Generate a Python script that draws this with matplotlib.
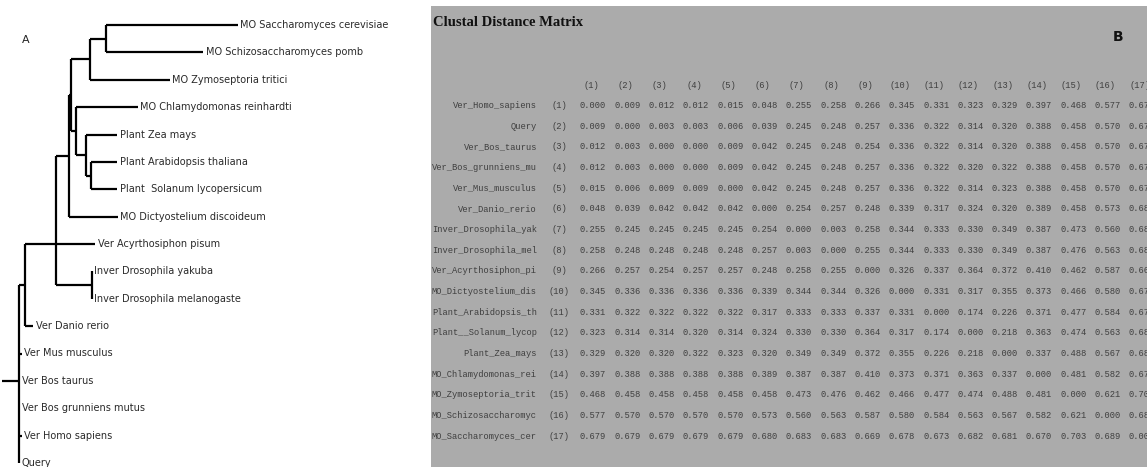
import matplotlib
matplotlib.use("Agg")
import matplotlib.pyplot as plt
from matplotlib.patches import Rectangle

# ---------------- дані ----------------
# дерево (панель A): листки зверху вниз
leaf_names = [
    "MO Saccharomyces cerevisiae",
    "MO Schizosaccharomyces pomb",
    "MO Zymoseptoria tritici",
    "MO Chlamydomonas reinhardti",
    "Plant Zea mays",
    "Plant Arabidopsis thaliana",
    "Plant  Solanum lycopersicum",
    "MO Dictyostelium discoideum",
    "Ver Acyrthosiphon pisum",
    "Inver Drosophila yakuba",
    "Inver Drosophila melanogaste",
    "Ver Danio rerio",
    "Ver Mus musculus",
    "Ver Bos taurus",
    "Ver Bos grunniens mutus",
    "Ver Homo sapiens",
    "Query",
]
# відстань від кореня до кінця гілки листка
leaf_depth = [219, 184, 151, 119, 98, 98, 98, 99, 76, 73, 73, 14, 3, 0, 0, 3, 0]

# внутрішні вузли: (ім'я, глибина, діти); діти - індекси листків або імена вузлів
nodes = [
    ("ss", 87, [0, 1]),
    ("ssz", 71, ["ss", 2]),
    ("pas", 72, [5, 6]),
    ("plant", 67, [4, "pas"]),
    ("cp", 57, [3, "plant"]),
    ("a", 52, ["ssz", "cp"]),
    ("b", 50, ["a", 7]),
    ("dros", 73, [9, 10]),
    ("c", 37, ["b", 8, "dros"]),
    ("d", 6, ["c", 11]),
    ("root", 0, ["d", 12, 13, 14, 15, 16]),
]
root_stub = 17

# матриця відстаней (панель B)
row_labels = [
    "Ver_Homo_sapiens", "Query", "Ver_Bos_taurus", "Ver_Bos_grunniens_mu",
    "Ver_Mus_musculus", "Ver_Danio_rerio", "Inver_Drosophila_yak",
    "Inver_Drosophila_mel", "Ver_Acyrthosiphon_pi", "MO_Dictyostelium_dis",
    "Plant_Arabidopsis_th", "Plant__Solanum_lycop", "Plant_Zea_mays",
    "MO_Chlamydomonas_rei", "MO_Zymoseptoria_trit", "MO_Schizosaccharomyc",
    "MO_Saccharomyces_cer",
]
dist = [
    [0.000, 0.009, 0.012, 0.012, 0.015, 0.048, 0.255, 0.258, 0.266, 0.345, 0.331, 0.323, 0.329, 0.397, 0.468, 0.577, 0.679],
    [0.009, 0.000, 0.003, 0.003, 0.006, 0.039, 0.245, 0.248, 0.257, 0.336, 0.322, 0.314, 0.320, 0.388, 0.458, 0.570, 0.679],
    [0.012, 0.003, 0.000, 0.000, 0.009, 0.042, 0.245, 0.248, 0.254, 0.336, 0.322, 0.314, 0.320, 0.388, 0.458, 0.570, 0.679],
    [0.012, 0.003, 0.000, 0.000, 0.009, 0.042, 0.245, 0.248, 0.257, 0.336, 0.322, 0.320, 0.322, 0.388, 0.458, 0.570, 0.679],
    [0.015, 0.006, 0.009, 0.009, 0.000, 0.042, 0.245, 0.248, 0.257, 0.336, 0.322, 0.314, 0.323, 0.388, 0.458, 0.570, 0.679],
    [0.048, 0.039, 0.042, 0.042, 0.042, 0.000, 0.254, 0.257, 0.248, 0.339, 0.317, 0.324, 0.320, 0.389, 0.458, 0.573, 0.680],
    [0.255, 0.245, 0.245, 0.245, 0.245, 0.254, 0.000, 0.003, 0.258, 0.344, 0.333, 0.330, 0.349, 0.387, 0.473, 0.560, 0.683],
    [0.258, 0.248, 0.248, 0.248, 0.248, 0.257, 0.003, 0.000, 0.255, 0.344, 0.333, 0.330, 0.349, 0.387, 0.476, 0.563, 0.683],
    [0.266, 0.257, 0.254, 0.257, 0.257, 0.248, 0.258, 0.255, 0.000, 0.326, 0.337, 0.364, 0.372, 0.410, 0.462, 0.587, 0.669],
    [0.345, 0.336, 0.336, 0.336, 0.336, 0.339, 0.344, 0.344, 0.326, 0.000, 0.331, 0.317, 0.355, 0.373, 0.466, 0.580, 0.678],
    [0.331, 0.322, 0.322, 0.322, 0.322, 0.317, 0.333, 0.333, 0.337, 0.331, 0.000, 0.174, 0.226, 0.371, 0.477, 0.584, 0.673],
    [0.323, 0.314, 0.314, 0.320, 0.314, 0.324, 0.330, 0.330, 0.364, 0.317, 0.174, 0.000, 0.218, 0.363, 0.474, 0.563, 0.682],
    [0.329, 0.320, 0.320, 0.322, 0.323, 0.320, 0.349, 0.349, 0.372, 0.355, 0.226, 0.218, 0.000, 0.337, 0.488, 0.567, 0.681],
    [0.397, 0.388, 0.388, 0.388, 0.388, 0.389, 0.387, 0.387, 0.410, 0.373, 0.371, 0.363, 0.337, 0.000, 0.481, 0.582, 0.670],
    [0.468, 0.458, 0.458, 0.458, 0.458, 0.458, 0.473, 0.476, 0.462, 0.466, 0.477, 0.474, 0.488, 0.481, 0.000, 0.621, 0.703],
    [0.577, 0.570, 0.570, 0.570, 0.570, 0.573, 0.560, 0.563, 0.587, 0.580, 0.584, 0.563, 0.567, 0.582, 0.621, 0.000, 0.689],
    [0.679, 0.679, 0.679, 0.679, 0.679, 0.680, 0.683, 0.683, 0.669, 0.678, 0.673, 0.682, 0.681, 0.670, 0.703, 0.689, 0.000],
]

# ---------------- фігура ----------------
W, H = 1147, 467
fig = plt.figure(figsize=(W / 100, H / 100), dpi=100)
fig.patch.set_facecolor("white")

# ===== Панель A: дерево =====
axt = fig.add_axes([0, 0, 430 / W, 1])
axt.set_xlim(-19, 411)
step = 27.375
axt.set_ylim((H - 25) / step, -25 / step)
axt.axis("off")

node_y = {}
node_x = {}


def child_pos(c):
    if isinstance(c, int):
        return leaf_depth[c], c
    return node_x[c], node_y[c]


lw = 1.6
for name, depth, children in nodes:
    ys = [child_pos(c)[1] for c in children]
    if len(children) == 2:
        y = (ys[0] + ys[1]) / 2
    else:
        y = ys[(len(children) - 1) // 2]
    node_x[name] = depth
    node_y[name] = y
    axt.plot([depth, depth], [min(ys), max(ys)], color="black", lw=lw,
             solid_capstyle="butt")
    for c in children:
        cx, cy = child_pos(c)
        if cx > depth:
            axt.plot([depth, cx], [cy, cy], color="black", lw=lw,
                     solid_capstyle="butt")

# короткий відросток кореня
axt.plot([-root_stub, 0], [node_y["root"], node_y["root"]], color="black",
         lw=lw, solid_capstyle="butt")

for i, name in enumerate(leaf_names):
    axt.text(leaf_depth[i] + 2.5, i, name, fontsize=7, color="#2a2a2a",
             family="DejaVu Sans", va="center", ha="left")

axt.text(3, 0.55, "A", fontsize=8, color="#222222", family="DejaVu Sans",
         va="center", ha="left")

# ===== Панель B: матриця =====
ax = fig.add_axes([0, 0, 1, 1])
ax.set_xlim(0, W)
ax.set_ylim(H, 0)
ax.axis("off")
ax.patch.set_alpha(0)

ax.add_patch(Rectangle((431, 6), W - 431, H - 6, facecolor="#ababab",
                       edgecolor="none"))

ax.text(433, 22, "Clustal Distance Matrix", fontsize=10.5,
        fontweight="bold", family="Liberation Serif",
        color="#111111", va="center", ha="left")
ax.text(1118, 37, "B", fontsize=10, fontweight="bold", family="DejaVu Sans",
        color="#111111", va="center", ha="center")

txt_col = "#3f3f3f"
mono = "Liberation Mono"
fs = 6.3
x0, dx = 580, 34.3
y0, dy = 85, 20.65

for j in range(len(dist)):
    ax.text(x0 + j * dx + 11, y0, f"({j + 1})", fontsize=fs, family=mono,
            color=txt_col, va="center", ha="center", clip_on=True)

for i, lab in enumerate(row_labels):
    y = y0 + (i + 1) * dy
    ax.text(537, y, lab, fontsize=fs, family=mono, color=txt_col,
            va="center", ha="right")
    ax.text(559, y, f"({i + 1})", fontsize=fs, family=mono, color=txt_col,
            va="center", ha="center")
    for j, v in enumerate(dist[i]):
        ax.text(x0 + j * dx, y, f"{v:.3f}", fontsize=fs, family=mono,
                color=txt_col, va="center", ha="left", clip_on=True)

fig.savefig("out.png", dpi=100)
